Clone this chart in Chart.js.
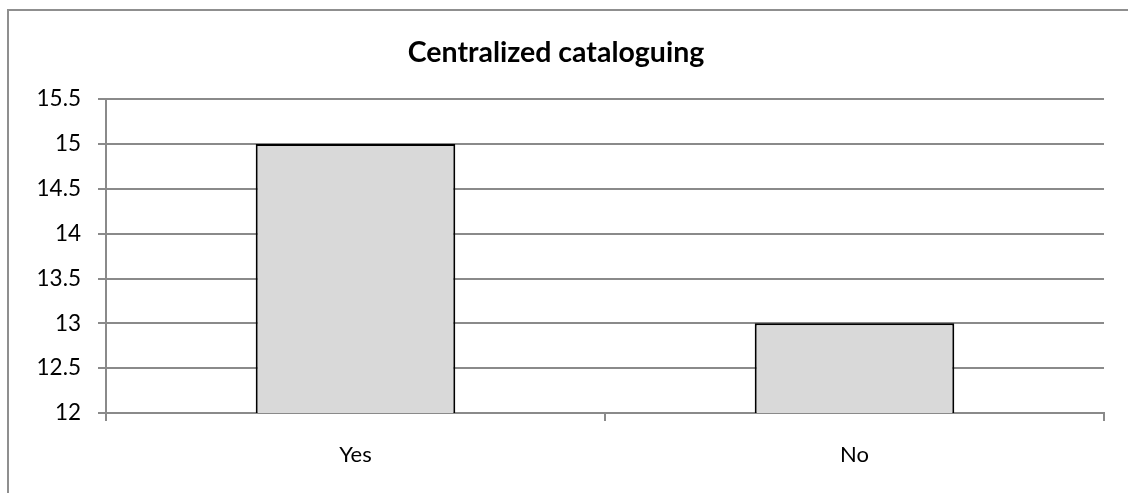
<!DOCTYPE html>
<html>
<head>
<meta charset="utf-8">
<script src="https://cdn.jsdelivr.net/npm/chart.js@4"></script>
<style>
  html, body { margin: 0; padding: 0; background: #fff; }
  #wrap { width: 1128px; height: 493px; position: relative; }
</style>
</head>
<body>
<div id="wrap"><canvas id="chart"></canvas></div>
<script>
// chart data
const categories = ["Yes", "No"];
const counts = [15, 13];
const yTicks = [12, 12.5, 13, 13.5, 14, 14.5, 15, 15.5];

const FONT = "Lato, 'Open Sans', sans-serif";
const GRID = "#8a8a8a";

// outer frame, like the spreadsheet chart border (runs off right/bottom edge)
const framePlugin = {
  id: "frame",
  beforeDraw(chart) {
    const ctx = chart.ctx;
    ctx.save();
    ctx.strokeStyle = "#8f8f8f";
    ctx.lineWidth = 2;
    ctx.strokeRect(8, 10, chart.width + 20, chart.height + 20);
    ctx.restore();
  }
};

new Chart(document.getElementById("chart"), {
  type: "bar",
  data: {
    labels: categories,
    datasets: [{
      label: "Centralized cataloguing",
      data: counts,
      backgroundColor: "#d9d9d9",
      borderColor: "#000",
      borderWidth: 2,
      categoryPercentage: 1,
      barPercentage: 0.4
    }]
  },
  options: {
    responsive: true,
    maintainAspectRatio: false,
    animation: false,
    layout: { padding: { left: 8, right: 24, top: 0, bottom: 0 } },
    plugins: {
      legend: { display: false },
      tooltip: { enabled: false },
      title: {
        display: true,
        text: "Centralized cataloguing",
        color: "#000",
        font: { family: FONT, size: 28.5, weight: "bold", lineHeight: 1.2 },
        padding: { top: 36, bottom: 29 }
      }
    },
    scales: {
      x: {
        offset: true,
        grid: {
          offset: true,
          drawOnChartArea: false,
          drawTicks: true,
          tickLength: 8,
          color: GRID,
          lineWidth: 2
        },
        border: { color: GRID, width: 2 },
        ticks: {
          color: "#000",
          padding: 21,
          font: { family: FONT, size: 22 }
        },
        afterFit(scale) { scale.height = 80; }
      },
      y: {
        min: 12,
        max: 15.5,
        afterBuildTicks(scale) {
          scale.ticks = yTicks.map(v => ({ value: v }));
        },
        grid: {
          color: GRID,
          lineWidth: 2,
          drawTicks: true,
          tickLength: 8
        },
        border: { color: GRID, width: 2 },
        ticks: {
          color: "#000",
          padding: 17,
          font: { family: FONT, size: 22.5 },
          callback: v => String(v)
        },
        afterFit(scale) { scale.width = 98; }
      }
    }
  },
  plugins: [framePlugin]
});
</script>
</body>
</html>
